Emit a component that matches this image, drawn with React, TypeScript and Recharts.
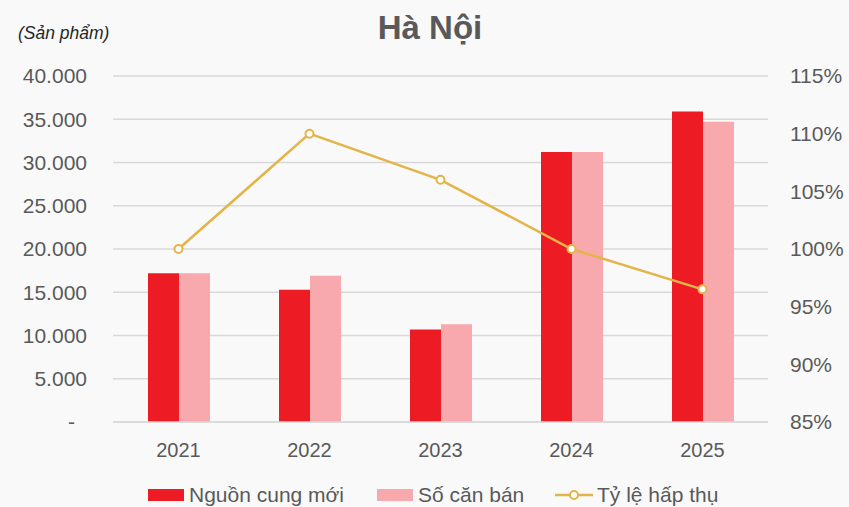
import React from "react";
import {
  ComposedChart, Bar, Line, XAxis, YAxis, CartesianGrid,
} from "recharts";

// Số liệu
const YEARS = ["2021", "2022", "2023", "2024", "2025"];
const NEW_SUPPLY = [17200, 15300, 10700, 31200, 35900];
const SOLD_UNITS = [17200, 16900, 11300, 31200, 34700];
const ABSORPTION = [100, 110, 106, 100, 96.5];

const LEFT_TICKS = [0, 5000, 10000, 15000, 20000, 25000, 30000, 35000, 40000];
const RIGHT_TICKS = [85, 90, 95, 100, 105, 110, 115];

const RED = "#ED1C24";
const PINK = "#F8A9AE";
const GOLD = "#E3B448";
const GRID = "#D9D9D9";
const TEXT = "#595959";
const FONT = "'Liberation Sans', Arial, sans-serif";

const data = YEARS.map((year, i) => ({
  year,
  nguonCung: NEW_SUPPLY[i],
  soCanBan: SOLD_UNITS[i],
  tyLe: ABSORPTION[i],
}));

const fmtThousands = (v: number) =>
  String(v).replace(/\B(?=(\d{3})+(?!\d))/g, ".");

// trục trái: số 0 hiển thị kiểu kế toán "-"
const LeftTick = (props: any) => {
  const { x, y, payload } = props;
  const v = payload.value as number;
  return (
    <text
      x={v === 0 ? x - 12 : x}
      y={y}
      dy="0.355em"
      textAnchor="end"
      fill={TEXT}
      fontSize={21}
      fontFamily={FONT}
    >
      {v === 0 ? "-" : fmtThousands(v)}
    </text>
  );
};

const legendText: React.CSSProperties = {
  position: "absolute",
  top: 482,
  fontSize: 21,
  lineHeight: "26px",
  color: TEXT,
  fontFamily: FONT,
  whiteSpace: "nowrap",
};

export default function App() {
  return (
    <div
      style={{
        position: "absolute",
        left: 0,
        top: 0,
        width: 849,
        height: 507,
        background: "#F9F9F9",
        fontFamily: FONT,
        overflow: "hidden",
      }}
    >
      <div
        style={{
          position: "absolute",
          left: 0,
          width: 860,
          top: 8,
          textAlign: "center",
          fontSize: 33,
          fontWeight: 700,
          color: "#595959",
          lineHeight: "40px",
        }}
      >
        Hà Nội
      </div>
      <div
        style={{
          position: "absolute",
          left: 18,
          top: 23,
          fontSize: 17.5,
          fontStyle: "italic",
          color: "#262626",
          lineHeight: "20px",
        }}
      >
        (Sản phẩm)
      </div>

      <ComposedChart
        width={849}
        height={507}
        data={data}
        margin={{ top: 76, right: 0, bottom: 0, left: 0 }}
        barGap={0}
        style={{ position: "absolute", left: 0, top: 0 }}
      >
        <CartesianGrid yAxisId="left" vertical={false} stroke={GRID} strokeWidth={1.5} />
        <XAxis
          dataKey="year"
          height={85}
          tickLine={false}
          axisLine={{ stroke: GRID, strokeWidth: 1.5 }}
          tickSize={0}
          tickMargin={21}
          tick={{ fill: TEXT, fontSize: 20, fontFamily: FONT }}
        />
        <YAxis
          yAxisId="left"
          orientation="left"
          width={113}
          domain={[0, 40000]}
          ticks={LEFT_TICKS}
          interval={0}
          axisLine={false}
          tickLine={false}
          tickSize={0}
          tickMargin={26}
          tick={<LeftTick />}
        />
        <YAxis
          yAxisId="right"
          orientation="right"
          width={81}
          domain={[85, 115]}
          ticks={RIGHT_TICKS}
          interval={0}
          axisLine={false}
          tickLine={false}
          tickSize={0}
          tickMargin={22}
          tickFormatter={(v: number) => `${v}%`}
          tick={{ fill: TEXT, fontSize: 21, fontFamily: FONT }}
        />
        <Bar
          yAxisId="left"
          dataKey="nguonCung"
          name="Nguồn cung mới"
          fill={RED}
          barSize={31}
          isAnimationActive={false}
        />
        <Bar
          yAxisId="left"
          dataKey="soCanBan"
          name="Số căn bán"
          fill={PINK}
          barSize={31}
          isAnimationActive={false}
        />
        <Line
          yAxisId="right"
          dataKey="tyLe"
          name="Tỷ lệ hấp thụ"
          stroke={GOLD}
          strokeWidth={2.5}
          dot={{ r: 4, fill: "#FFFFFF", stroke: GOLD, strokeWidth: 2 }}
          isAnimationActive={false}
        />
      </ComposedChart>

      {/* chú thích */}
      <div style={{ position: "absolute", left: 148, top: 489, width: 36, height: 12, background: RED }} />
      <div style={{ ...legendText, left: 189 }}>Nguồn cung mới</div>
      <div style={{ position: "absolute", left: 377, top: 489, width: 36, height: 12, background: PINK }} />
      <div style={{ ...legendText, left: 418 }}>Số căn bán</div>
      <svg style={{ position: "absolute", left: 555, top: 488 }} width={40} height={14}>
        <line x1={0} y1={7} x2={38} y2={7} stroke={GOLD} strokeWidth={2.5} />
        <circle cx={19} cy={7} r={4} fill="#FFFFFF" stroke={GOLD} strokeWidth={2} />
      </svg>
      <div style={{ ...legendText, left: 597 }}>Tỷ lệ hấp thụ</div>
    </div>
  );
}
